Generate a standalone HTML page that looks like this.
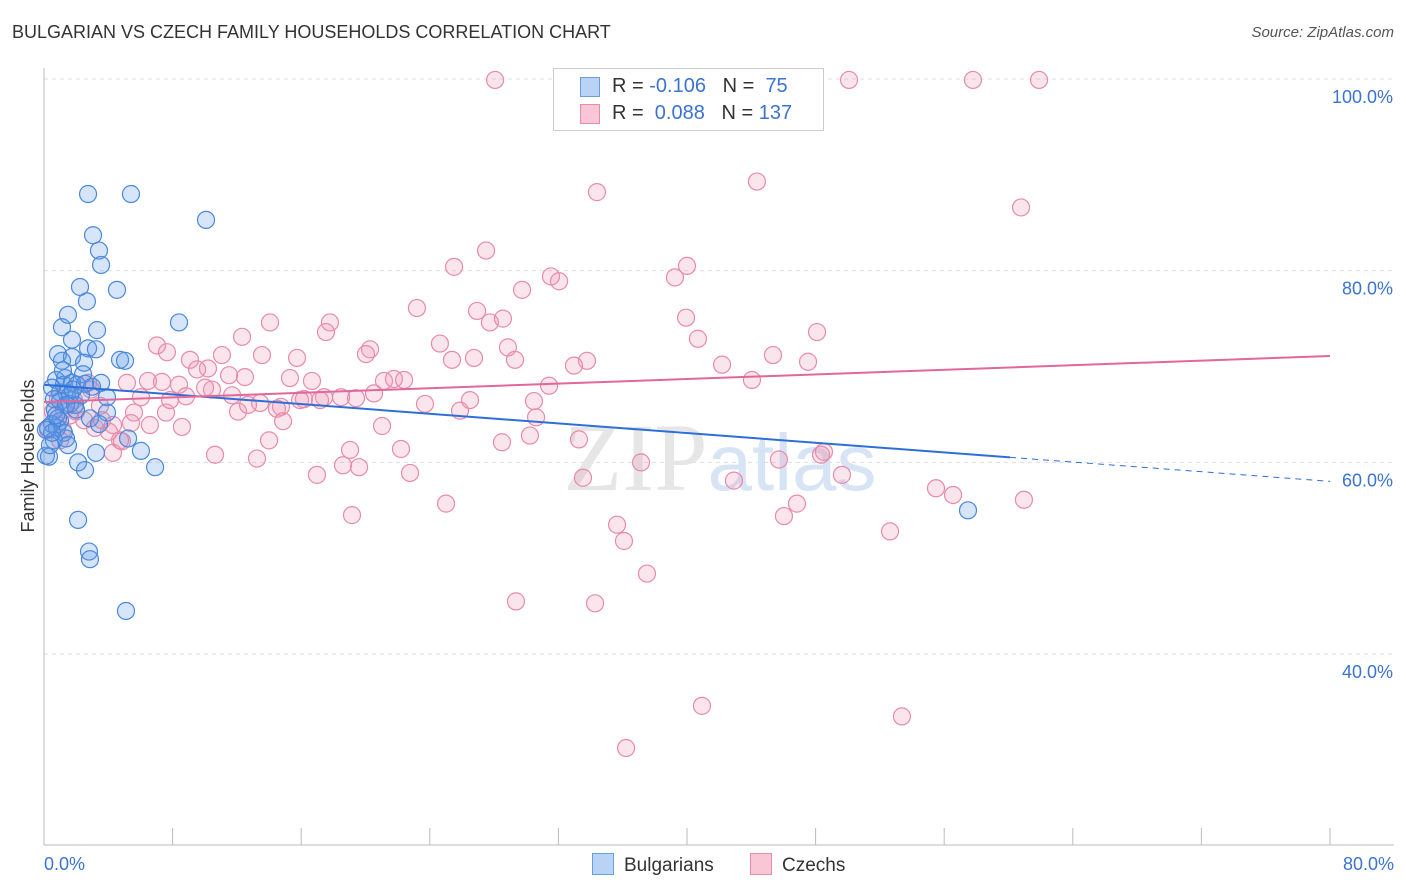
<!DOCTYPE html>
<html><head><meta charset="utf-8"><style>
body{margin:0;background:#fff;font-family:"Liberation Sans",sans-serif}
#wrap{position:relative;width:1406px;height:892px}
.t{position:absolute;white-space:nowrap}
</style></head><body>
<div id="wrap">
<div class="t" style="left:12px;top:22px;font-size:18px;color:#333">BULGARIAN VS CZECH FAMILY HOUSEHOLDS CORRELATION CHART</div>
<div class="t" style="right:12px;top:24px;font-size:15px;color:#555;font-style:italic">Source: ZipAtlas.com</div>
<svg id="svg" width="1406" height="892" style="position:absolute;left:0;top:0"></svg>
</div>
<script>
const bluX=[2.74,5.41,10.08,3.05,3.42,3.55,4.54,2.24,2.67,1.49,8.40,1.12,3.30,1.74,0.87,2.74,3.23,4.73,5.04,1.74,1.12,2.49,0.75,1.31,2.43,0.50,1.24,1.74,2.05,2.99,3.55,1.0,1.43,2.30,3.92,0.62,1.0,1.62,1.93,0.68,3.92,2.86,1.0,0.5,3.42,0.25,0.81,1.24,5.23,0.62,1.37,6.03,0.12,0.31,3.23,2.12,2.55,6.91,2.12,2.80,2.86,5.10,57.48,0.37,0.87,1.62,1.99,1.18,0.12,1.49,0.5,2.55,1.37,1.80,0.75];
const bluY=[88.0,88.0,85.3,83.7,82.1,80.6,78.0,78.3,76.8,75.4,74.6,74.1,73.8,72.8,71.3,71.9,71.8,70.7,70.6,71.0,70.6,70.4,68.6,68.8,69.2,67.8,68.1,68.3,68.1,67.9,68.3,67.3,67.2,67.0,66.8,66.6,66.4,66.1,66.0,65.5,65.2,64.6,64.3,64.0,64.0,63.6,63.6,63.1,62.5,62.3,62.5,61.2,60.7,60.6,61.0,60.0,59.2,59.5,54.0,50.7,49.9,44.5,55.0,61.8,64.6,67.0,65.5,69.6,63.4,61.8,63.1,68.2,66.0,67.6,64.9];
const pnkX=[28.06,43.36,50.08,57.79,61.90,34.40,44.35,60.78,27.50,25.51,40.0,31.54,32.04,39.25,29.74,23.20,26.94,27.74,28.55,39.94,14.06,17.79,17.54,48.09,12.32,7.03,24.63,40.68,20.28,28.86,20.03,7.65,13.56,11.07,9.08,15.74,25.38,26.75,45.35,47.53,33.78,32.97,42.18,44.04,5.16,6.47,7.34,8.40,10.20,9.52,11.51,12.50,15.30,16.67,21.15,21.77,22.40,31.42,10.45,8.83,6.03,13.44,14.74,14.49,15.93,17.42,18.48,19.41,20.53,23.70,25.88,30.48,30.61,12.07,7.59,5.60,2.74,1.24,1.99,3.48,14.87,5.41,8.58,14.0,4.29,4.04,4.73,4.29,16.17,21.03,22.21,30.23,33.28,28.49,4.85,10.64,13.25,16.98,18.60,19.60,22.77,45.72,48.34,48.52,49.64,33.53,37.14,42.92,25.01,19.16,46.84,46.03,55.49,56.55,60.96,35.65,36.08,52.63,37.51,29.36,34.28,40.93,53.37,36.21,0.87,1.62,2.49,3.17,6.59,10.02,11.70,12.69,19.04,26.50,1.18,0.56,1.87,2.92,7.84,17.17,0.25,1.0,3.61,29.30];
const pnkY=[99.9,99.9,99.9,99.9,99.9,88.2,89.3,86.6,82.1,80.4,80.5,79.4,78.9,79.3,78.0,76.1,75.8,74.6,75.0,75.1,74.6,74.6,73.6,73.6,73.1,72.2,72.4,72.9,71.8,72.0,71.3,71.5,71.2,71.2,70.7,70.9,70.7,70.9,71.2,70.5,70.6,70.1,70.2,68.6,68.3,68.5,68.4,68.1,69.8,69.7,69.1,68.9,68.8,68.5,68.5,68.7,68.6,68.0,67.6,66.9,66.8,66.2,65.8,65.6,66.5,66.8,66.8,66.7,67.2,66.1,65.4,66.4,64.7,65.3,65.2,65.2,68.3,65.5,65.3,65.9,64.3,64.1,63.7,62.3,63.9,63.2,62.3,61.0,66.6,63.8,61.4,62.8,62.4,62.1,62.2,60.8,60.4,58.7,59.7,59.5,58.9,60.3,60.8,61.1,58.7,58.4,60.0,58.1,55.7,54.5,55.7,54.4,57.3,56.6,56.1,53.5,51.8,52.8,48.4,45.5,45.3,34.6,33.5,30.2,66.7,64.9,64.4,63.6,63.9,67.8,67.0,66.0,61.3,66.5,63.4,65.3,66.5,67.6,66.5,66.5,63.4,62.3,64.4,70.7];
const bluTrend=[68.1,-0.126]; // intercept, slope
const pnkTrend=[66.3,0.06];
const yTicks=[100,80,60,40];
const xTickLabels=["0.0%","80.0%"];

const NS="http://www.w3.org/2000/svg", svg=document.getElementById('svg');
const X=v=>44+v*1286/80, Y=v=>79+(100-v)*9.585;
function mk(t,a,p){const e=document.createElementNS(NS,t);for(const k in a)e.setAttribute(k,a[k]);(p||svg).appendChild(e);return e;}
// grid
yTicks.forEach(v=>{
 const l=mk('line',{x1:44,x2:1394,y1:Y(v),y2:Y(v),stroke:'#ddd','stroke-dasharray':'4,4'});
 
 
 const t=mk('text',{x:1393,y:Y(v)+24,'text-anchor':'end','font-size':18,fill:'#3b73d1','font-family':'Liberation Sans'});
 t.textContent=v.toFixed(1)+'%';
 
 
});
mk('line',{x1:44,x2:44,y1:68,y2:845,stroke:'#bbb'});
mk('line',{x1:44,x2:1394,y1:845,y2:845,stroke:'#bbb'});
for(let i=0;i<=10;i++){const l=mk('line',{x1:X(i*8),x2:X(i*8),y1:828,y2:845,stroke:'#bbb'});
 
 }
[[0,xTickLabels[0],'start',44],[80,xTickLabels[1],'end',1394]].forEach(d=>{
 const t=mk('text',{x:d[3],y:870,'text-anchor':d[2],'font-size':18,fill:'#3b73d1','font-family':'Liberation Sans'});
 t.textContent=d[1];
 
 
});
const yt=mk('text',{x:34,y:456,'text-anchor':'middle','font-size':18,fill:'#333',transform:'rotate(-90 34 456)','font-family':'Liberation Sans'});
yt.textContent='Family Households';


// watermark
const wm=mk('text',{x:720,y:490,'text-anchor':'middle','font-size':96,fill:'#e6e6e6','font-family':'Liberation Serif'});
wm.innerHTML='ZIP<tspan fill="#d6e4f5" font-family="Liberation Sans" font-size="80">atlas</tspan>';


function pts(xs,ys,st,fi,name){xs.forEach((x,i)=>{const c=mk('circle',{cx:X(x),cy:Y(ys[i]),r:8.5,fill:fi,stroke:st,'stroke-width':1.2});
 
 });}
pts(pnkX,pnkY,'#e88aab','rgba(240,150,180,0.25)','czech-point');
pts(bluX,bluY,'#4a88dd','rgba(90,150,230,0.25)','bulgarian-point');
const f=(t,x)=>t[0]+t[1]*x;
let l=mk('line',{x1:X(0),y1:Y(f(bluTrend,0)),x2:X(60.1),y2:Y(f(bluTrend,60.1)),stroke:'#2d6fd6','stroke-width':2});


l=mk('line',{x1:X(60.1),y1:Y(f(bluTrend,60.1)),x2:X(80),y2:Y(f(bluTrend,80)),stroke:'#2d6fd6','stroke-width':1,'stroke-dasharray':'6,5'});


l=mk('line',{x1:X(0),y1:Y(f(pnkTrend,0)),x2:X(80),y2:Y(f(pnkTrend,80)),stroke:'#e0689a','stroke-width':2});


</script>
<div class="t" style="left:553px;top:68px;width:269px;height:61px;border:1px solid #ccc;background:#fff;font-size:20px">
 <div style="position:absolute;left:26px;top:8px;width:18px;height:18px;background:#b8d3f5;border:1px solid #6a9ee0"></div>
 <div style="position:absolute;left:58px;top:6px;color:#333">R = <span style="color:#3b73d1">-0.106</span>&nbsp;&nbsp;&nbsp;N = &nbsp;<span style="color:#3b73d1">75</span></div>
 <div style="position:absolute;left:26px;top:35px;width:18px;height:18px;background:#f9c6d6;border:1px solid #e88aab"></div>
 <div style="position:absolute;left:58px;top:33px;color:#333">R = &nbsp;<span style="color:#3b73d1">0.088</span>&nbsp;&nbsp;&nbsp;N = <span style="color:#3b73d1">137</span></div>
</div>
<div class="t" style="left:592px;top:853px;font-size:19px;color:#333"><span style="display:inline-block;width:20px;height:20px;background:#b8d3f5;border:1px solid #6a9ee0;vertical-align:-4px;margin-right:10px"></span>Bulgarians</div>
<div class="t" style="left:750px;top:853px;font-size:19px;color:#333"><span style="display:inline-block;width:20px;height:20px;background:#f9c6d6;border:1px solid #e88aab;vertical-align:-4px;margin-right:10px"></span>Czechs</div>
</body></html>
